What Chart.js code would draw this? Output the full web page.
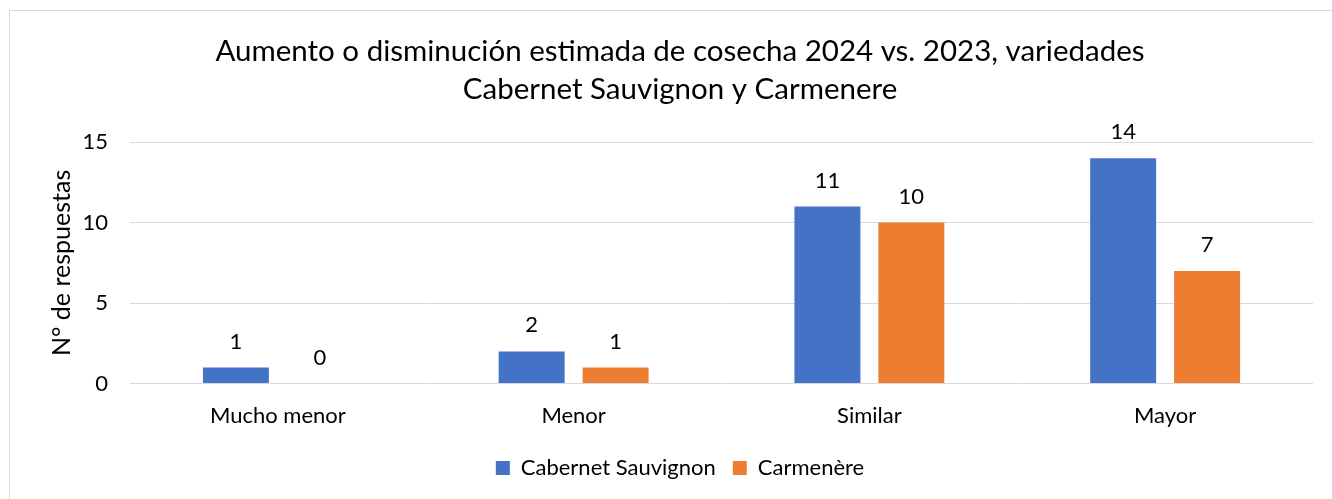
<!DOCTYPE html>
<html>
<head>
<meta charset="utf-8">
<script src="https://cdn.jsdelivr.net/npm/chart.js@4.4.1/dist/chart.umd.min.js"></script>
<style>
  html, body { margin: 0; padding: 0; background: #fff; }
  #wrap { position: absolute; left: 0; top: 0; width: 1332px; height: 499px; }
</style>
</head>
<body>
<div id="wrap"><canvas id="c" width="1332" height="499"></canvas></div>
<script>
const categories = ["Mucho menor", "Menor", "Similar", "Mayor"];
const cabernetValues = [1, 2, 11, 14];
const carmenereValues = [0, 1, 10, 7];
const seriesNames = ["Cabernet Sauvignon", "Carmenère"];
const titleLines = ["Aumento o disminución estimada de cosecha 2024 vs. 2023, variedades", "Cabernet Sauvignon y Carmenere"];
const yAxisTitle = "N° de respuestas";

const FONT = "Lato, 'Open Sans', sans-serif";

const borderPlugin = {
  id: 'outerBorder',
  beforeDraw(chart) {
    const ctx = chart.ctx;
    ctx.save();
    ctx.fillStyle = '#ffffff';
    ctx.fillRect(0, 0, chart.width, chart.height);
    ctx.strokeStyle = '#d9d9d9';
    ctx.lineWidth = 1;
    ctx.strokeRect(9.5, 10.5, chart.width + 20, chart.height + 20);
    ctx.restore();
  }
};

const labelPlugin = {
  id: 'barLabels',
  afterDatasetsDraw(chart) {
    const ctx = chart.ctx;
    ctx.save();
    ctx.font = "22px " + FONT;
    ctx.fillStyle = '#000';
    ctx.textAlign = 'center';
    ctx.textBaseline = 'middle';
    chart.data.datasets.forEach((ds, i) => {
      const meta = chart.getDatasetMeta(i);
      meta.data.forEach((el, j) => {
        ctx.fillText(String(ds.data[j]), el.x, el.y - 26);
      });
    });
    ctx.restore();
  }
};

new Chart(document.getElementById('c'), {
  type: 'bar',
  data: {
    labels: categories,
    datasets: [
      { label: seriesNames[0], data: cabernetValues, backgroundColor: '#4472C4', categoryPercentage: 0.5676, barPercentage: 0.786 },
      { label: seriesNames[1], data: carmenereValues, backgroundColor: '#ED7D31', categoryPercentage: 0.5676, barPercentage: 0.786 }
    ]
  },
  options: {
    responsive: false,
    animation: false,
    devicePixelRatio: 1,
    layout: { padding: { left: 47, right: 19, top: 32, bottom: 10 } },
    plugins: {
      title: {
        display: true,
        text: titleLines,
        color: '#000',
        font: { family: FONT, size: 29.5, weight: 'normal', lineHeight: 1.29 },
        padding: { top: 0, bottom: 34 }
      },
      legend: {
        position: 'bottom',
        labels: {
          color: '#000',
          font: { family: FONT, size: 22 },
          boxWidth: 14,
          boxHeight: 14,
          padding: 17
        }
      },
      tooltip: { enabled: false }
    },
    scales: {
      x: {
        grid: { display: false },
        border: { display: false },
        ticks: { color: '#000', font: { family: FONT, size: 22 }, padding: 11 }
      },
      y: {
        min: 0, max: 15,
        afterFit(scale) { scale.width = 83; },
        ticks: { stepSize: 5, color: '#000', font: { family: FONT, size: 22 }, padding: 22 },
        grid: { color: '#d9d9d9', drawTicks: false, lineWidth: 1 },
        border: { display: false },
        title: { display: true, text: yAxisTitle, color: '#000', font: { family: FONT, size: 25 }, padding: { top: 0, bottom: 9 } }
      }
    }
  },
  plugins: [borderPlugin, labelPlugin]
});
</script>
</body>
</html>
